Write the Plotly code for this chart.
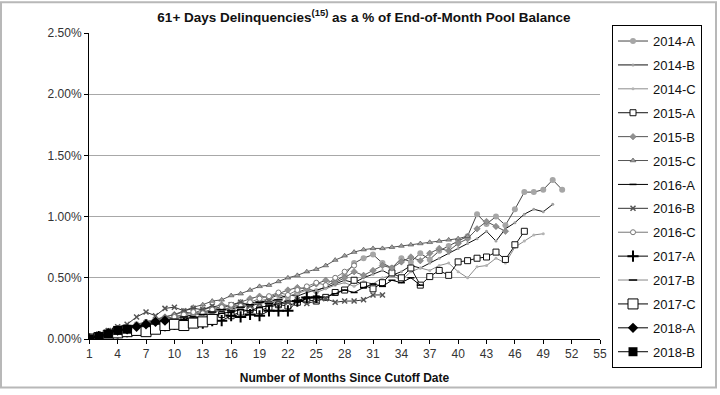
import plotly.graph_objects as go

months_ticks = list(range(1, 56, 3))
y_ticks = [0.0, 0.5, 1.0, 1.5, 2.0, 2.5]
y_tick_labels = ["0.00%", "0.50%", "1.00%", "1.50%", "2.00%", "2.50%"]

series_names = ["2014-A", "2014-B", "2014-C", "2015-A", "2015-B", "2015-C", "2016-A",
                "2016-B", "2016-C", "2017-A", "2017-B", "2017-C", "2018-A", "2018-B"]

s2014A = [0.00, 0.03, 0.06, 0.08, 0.09, 0.12, 0.13, 0.15, 0.17, 0.18,
          0.20, 0.19, 0.22, 0.24, 0.23, 0.26, 0.28, 0.30, 0.29, 0.33,
          0.36, 0.34, 0.38, 0.41, 0.39, 0.43, 0.47, 0.52, 0.62, 0.66,
          0.69, 0.62, 0.58, 0.66, 0.63, 0.70, 0.65, 0.72, 0.76, 0.80,
          0.84, 1.02, 0.94, 1.00, 0.93, 1.06, 1.20, 1.20, 1.22, 1.30, 1.22]
s2014B = [0.00, 0.02, 0.05, 0.07, 0.08, 0.10, 0.12, 0.14, 0.15, 0.17,
          0.18, 0.20, 0.21, 0.23, 0.25, 0.24, 0.27, 0.29, 0.31, 0.30,
          0.33, 0.36, 0.35, 0.38, 0.40, 0.42, 0.45, 0.48, 0.46, 0.50,
          0.53, 0.56, 0.52, 0.55, 0.60, 0.58, 0.62, 0.66, 0.70, 0.74,
          0.78, 0.82, 0.88, 0.80, 0.90, 0.95, 1.02, 1.06, 1.04, 1.10]
s2014C = [0.00, 0.02, 0.04, 0.06, 0.09, 0.11, 0.12, 0.13, 0.16, 0.18,
          0.17, 0.19, 0.22, 0.21, 0.24, 0.26, 0.25, 0.28, 0.31, 0.33,
          0.32, 0.35, 0.37, 0.40, 0.38, 0.41, 0.44, 0.46, 0.43, 0.47,
          0.45, 0.50, 0.52, 0.48, 0.55, 0.58, 0.56, 0.60, 0.62, 0.55,
          0.50, 0.59, 0.60, 0.66, 0.62, 0.75, 0.80, 0.85, 0.86]
s2015A = [0.00, 0.01, 0.03, 0.05, 0.06, 0.08, 0.09, 0.10, 0.12, 0.13,
          0.15, 0.16, 0.15, 0.18, 0.20, 0.19, 0.22, 0.24, 0.23, 0.26,
          0.28, 0.27, 0.30, 0.32, 0.31, 0.34, 0.38, 0.40, 0.48, 0.44,
          0.41, 0.46, 0.54, 0.50, 0.58, 0.44, 0.51, 0.56, 0.52, 0.63,
          0.64, 0.66, 0.67, 0.71, 0.65, 0.77, 0.88]
s2015B = [0.00, 0.03, 0.05, 0.07, 0.09, 0.11, 0.13, 0.16, 0.18, 0.20,
          0.22, 0.21, 0.24, 0.26, 0.28, 0.27, 0.30, 0.33, 0.35, 0.34,
          0.37, 0.40, 0.42, 0.41, 0.45, 0.48, 0.46, 0.50, 0.55, 0.52,
          0.56, 0.60, 0.58, 0.63, 0.67, 0.64, 0.70, 0.74, 0.72, 0.78,
          0.82, 0.90, 0.96, 0.92, 0.88]
s2015C = [0.00, 0.03, 0.05, 0.08, 0.10, 0.12, 0.14, 0.16, 0.18, 0.20,
          0.23, 0.26, 0.28, 0.31, 0.32, 0.355, 0.37, 0.40, 0.43, 0.44,
          0.47, 0.50, 0.52, 0.55, 0.57, 0.60, 0.645, 0.68, 0.71, 0.73,
          0.74, 0.74, 0.75, 0.76, 0.77, 0.78, 0.79, 0.80, 0.81, 0.82, 0.84]
s2016A = [0.00, 0.02, 0.04, 0.06, 0.07, 0.09, 0.10, 0.12, 0.13, 0.15,
          0.16, 0.18, 0.17, 0.19, 0.21, 0.22, 0.24, 0.23, 0.26, 0.27,
          0.29, 0.31, 0.30, 0.33, 0.35, 0.34, 0.37, 0.40, 0.38, 0.42,
          0.45, 0.43, 0.48, 0.46, 0.50, 0.44]
s2016B = [0.00, 0.04, 0.07, 0.10, 0.12, 0.18, 0.22, 0.19, 0.25, 0.26,
          0.23, 0.25, 0.24, 0.27, 0.25, 0.28, 0.30, 0.27, 0.29, 0.31,
          0.28, 0.30, 0.32, 0.29, 0.31, 0.33, 0.30, 0.31, 0.31, 0.32,
          0.36, 0.36]
s2016C = [0.00, 0.03, 0.05, 0.08, 0.10, 0.11, 0.14, 0.16, 0.15, 0.18,
          0.20, 0.22, 0.21, 0.24, 0.26, 0.28, 0.27, 0.30, 0.33, 0.35,
          0.38, 0.36, 0.40, 0.43, 0.46, 0.44, 0.50, 0.55, 0.60]
s2017A = [0.00, 0.02, 0.03, 0.05, 0.06, 0.07, 0.08, 0.10, 0.11, 0.12,
          0.13, 0.14, 0.13, 0.15, 0.15, 0.19, 0.18, 0.20, 0.19, 0.23,
          0.23, 0.23, 0.31, 0.34, 0.34]
s2017B = [0.00, 0.02, 0.04, 0.06, 0.08, 0.09, 0.11, 0.13, 0.14, 0.16,
          0.18, 0.17, 0.20, 0.22, 0.24, 0.23, 0.26, 0.28, 0.30, 0.29, 0.32]
s2017C = [0.00, 0.01, 0.03, 0.05, 0.06, 0.07, 0.06, 0.08, 0.11, 0.12,
          0.11, 0.13, 0.14, 0.16]
s2018A = [0.00, 0.02, 0.05, 0.07, 0.08, 0.10, 0.12, 0.14, 0.15]
s2018B = [0.00, 0.02, 0.04, 0.07, 0.08]

series_values = [s2014A, s2014B, s2014C, s2015A, s2015B, s2015C, s2016A,
                 s2016B, s2016C, s2017A, s2017B, s2017C, s2018A, s2018B]

styles = [
    dict(lc="#444444", sym="circle", ms=6, mc="#a6a6a6", mlc="#a6a6a6", mlw=0),
    dict(lc="#111111", sym="circle", ms=3, mc="#a0a0a0", mlc="#a0a0a0", mlw=0),
    dict(lc="#8c8c8c", sym="circle", ms=3, mc="#b4b4b4", mlc="#b4b4b4", mlw=0),
    dict(lc="#111111", sym="square", ms=6, mc="white", mlc="#111111", mlw=1),
    dict(lc="#555555", sym="diamond", ms=5, mc="#909090", mlc="#707070", mlw=0.5),
    dict(lc="#555555", sym="triangle-up", ms=5, mc="#a0a0a0", mlc="#444444", mlw=0.6),
    dict(lc="#000000", sym="line-ew", ms=5, mc="#000000", mlc="#000000", mlw=1.5),
    dict(lc="#333333", sym="x-thin", ms=5, mc="#555555", mlc="#555555", mlw=1.5),
    dict(lc="#777777", sym="circle", ms=5, mc="white", mlc="#777777", mlw=1),
    dict(lc="#000000", sym="cross-thin", ms=8, mc="#000000", mlc="#000000", mlw=2),
    dict(lc="#888888", sym="line-ew", ms=6, mc="#000000", mlc="#000000", mlw=1.5),
    dict(lc="#000000", sym="square", ms=10, mc="white", mlc="#000000", mlw=1),
    dict(lc="#000000", sym="diamond", ms=8, mc="#000000", mlc="#000000", mlw=0),
    dict(lc="#000000", sym="square", ms=9, mc="#000000", mlc="#000000", mlw=0),
]

fig = go.Figure()
for name, vals, st in zip(series_names, series_values, styles):
    fig.add_trace(go.Scatter(
        x=list(range(1, len(vals) + 1)), y=vals, name=name, mode="lines+markers",
        legendgroup=name,
        line=dict(color=st["lc"], width=1),
        marker=dict(symbol=st["sym"], size=st["ms"], color=st["mc"],
                    line=dict(color=st["mlc"], width=st["mlw"])),
    ))

L, R, T, B = 89, 600, 33, 342
W, H = 720, 395
def px(xp):
    return (xp - L) / (R - L)
def py(yp):
    return (B - yp) / (B - T)

fig.update_layout(
    width=W, height=H,
    margin=dict(l=L, r=W - R, t=T, b=H - B),
    paper_bgcolor="white", plot_bgcolor="white",
    font=dict(family="Liberation Sans, Arial, sans-serif", size=12, color="#222222"),
    title=dict(text="<b>61+ Days Delinquencies<sup>(15)</sup> as a % of End-of-Month Pool Balance</b>",
               x=364 / W, xanchor="center", y=1 - 17 / H, yanchor="middle",
               font=dict(size=13.5, color="#111111")),
    showlegend=True,
    legend=dict(x=px(612), xanchor="left", y=py(25), yanchor="top",
                bordercolor="#000000", borderwidth=1, bgcolor="white",
                font=dict(size=13, color="#111111"), tracegroupgap=4,
                itemwidth=30, maxheight=390),
    xaxis=dict(range=[0.97, 55], tickvals=months_ticks, showgrid=False,
               showline=True, linecolor="#000000", linewidth=1,
               ticks="outside", ticklen=4, tickcolor="#000000",
               tickfont=dict(size=12, color="#333333"), zeroline=False,
               title=dict(text="<b>Number of Months Since Cutoff Date</b>",
                          font=dict(size=12, color="#111111"), standoff=13)),
    yaxis=dict(range=[0, 2.5], tickvals=y_ticks, ticktext=y_tick_labels,
               showgrid=True, gridcolor="#a8a8a8", gridwidth=1,
               showline=True, linecolor="#000000", linewidth=1,
               ticks="outside", ticklen=4, tickcolor="#000000",
               tickfont=dict(size=12, color="#333333"), zeroline=False),
    shapes=[dict(type="rect", xref="paper", yref="paper",
                 x0=px(1), x1=px(716), y0=py(391), y1=py(2),
                 line=dict(color="#b8b8b8", width=2), fillcolor="rgba(0,0,0,0)",
                 layer="below")],
)

fig.write_html("out.html", config={"displayModeBar": False},
               post_script="document.body.style.margin='0';")
